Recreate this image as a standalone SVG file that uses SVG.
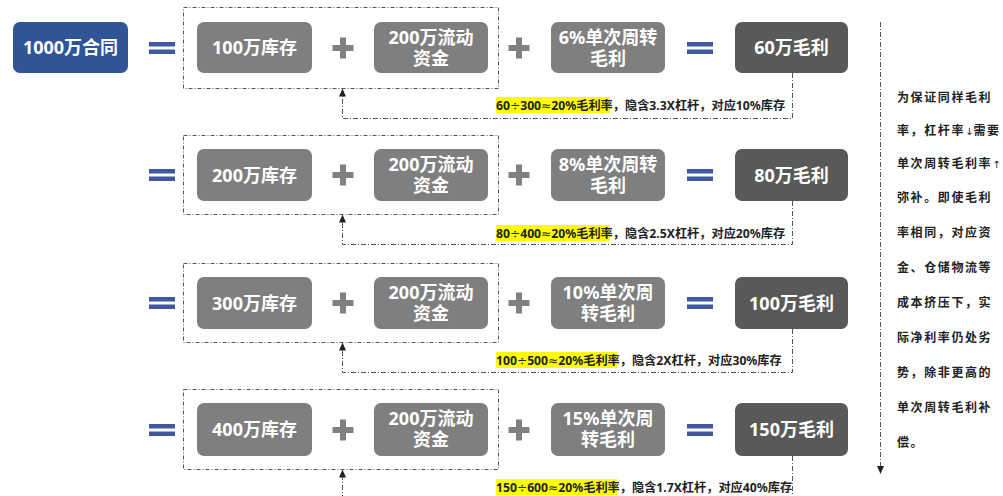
<svg xmlns="http://www.w3.org/2000/svg" width="1003" height="496" viewBox="0 0 1003 496">
<defs>
<style>
.blue{fill:#2F5597}
.gray{fill:#7F7F7F}
.dark{fill:#595959}
.t{fill:#fff;font-family:"Noto Sans","Noto Sans CJK SC",sans-serif;font-weight:bold;font-size:18px;text-anchor:middle}
.frame{fill:none;stroke:#555;stroke-width:1;stroke-dasharray:4 2 1 2}
.con{fill:none;stroke:#555;stroke-width:1;stroke-dasharray:5 2 1 2}
.eq{fill:#4158A0}
.pl{fill:#808080}
.lb{font-family:"Noto Sans","Noto Sans CJK SC",sans-serif;font-weight:bold;font-size:12.2px;fill:#222}
.sym{font-family:"DejaVu Sans",sans-serif;font-weight:normal}
.hl{fill:#FFFF00}
.side{font-family:"Noto Sans","Noto Sans CJK SC",sans-serif;font-weight:bold;font-size:12px;fill:#222;letter-spacing:1.6px}
.arr{font-family:"DejaVu Sans",sans-serif;font-weight:normal;font-size:10px;letter-spacing:0}
</style>
<marker id="ah" viewBox="0 0 8 8" refX="7" refY="4" markerWidth="8" markerHeight="8" orient="auto" markerUnits="userSpaceOnUse">
<path d="M0,0.5 L8,4 L0,7.5 z" fill="#222"/>
</marker>
<symbol id="eqs" overflow="visible"><rect class="eq" x="0" y="-6" width="26" height="4.5"/><rect class="eq" x="0" y="1.5" width="26" height="4.5"/></symbol>
<symbol id="pls" overflow="visible"><rect class="pl" x="-10.5" y="-3" width="21" height="6"/><rect class="pl" x="-3" y="-10.5" width="6" height="21"/></symbol>
</defs>
<rect width="1003" height="496" fill="#fff"/>

<g id="contract">
<rect class="blue" x="13" y="22" width="115" height="51" rx="7"/>
<text class="t" x="70.5" y="54">1000万合同</text>
</g>

<!-- Row 1 -->
<g id="row1">
<use href="#eqs" x="149" y="48"/>
<rect class="frame" x="183.5" y="7.5" width="315" height="81"/>
<g id="r1inv"><rect class="gray" x="197" y="22" width="115" height="51" rx="7"/><text class="t" x="254.5" y="54">100万库存</text></g>
<use href="#pls" x="343" y="48"/>
<g id="r1cap"><rect class="gray" x="374" y="22" width="114" height="51" rx="7"/><text class="t" x="431" y="44">200万流动<tspan x="431" dy="21">资金</tspan></text></g>
<use href="#pls" x="519" y="48"/>
<g id="r1m"><rect class="gray" x="551" y="22" width="114" height="51" rx="7"/><text class="t" x="608" y="44">6%单次周转<tspan x="608" dy="21">毛利</tspan></text></g>
<use href="#eqs" x="687" y="48"/>
<g id="r1p"><rect class="dark" x="735" y="22" width="113" height="51" rx="7"/><text class="t" x="791.5" y="54">60万毛利</text></g>
<g id="r1lbl"><rect class="hl" x="496" y="97" width="114" height="16"/><text class="lb" x="496" y="110">60<tspan class="sym">÷</tspan>300<tspan class="sym">≈</tspan>20%毛利率，隐含3.3X杠杆，对应10%库存</text></g>
</g>

<!-- Row 2 -->
<g id="row2">
<use href="#eqs" x="149" y="175"/>
<rect class="frame" x="183.5" y="135.5" width="315" height="79"/>
<g id="r2inv"><rect class="gray" x="197" y="149" width="115" height="52" rx="7"/><text class="t" x="254.5" y="181.5">200万库存</text></g>
<use href="#pls" x="343" y="175"/>
<g id="r2cap"><rect class="gray" x="374" y="149" width="114" height="52" rx="7"/><text class="t" x="431" y="171">200万流动<tspan x="431" dy="21">资金</tspan></text></g>
<use href="#pls" x="519" y="175"/>
<g id="r2m"><rect class="gray" x="551" y="149" width="114" height="52" rx="7"/><text class="t" x="608" y="171">8%单次周转<tspan x="608" dy="21">毛利</tspan></text></g>
<use href="#eqs" x="687" y="175"/>
<g id="r2p"><rect class="dark" x="735" y="149" width="113" height="52" rx="7"/><text class="t" x="791.5" y="181.5">80万毛利</text></g>
<g id="r2lbl"><rect class="hl" x="496" y="225" width="114" height="16"/><text class="lb" x="496" y="238">80<tspan class="sym">÷</tspan>400<tspan class="sym">≈</tspan>20%毛利率，隐含2.5X杠杆，对应20%库存</text></g>
</g>

<!-- Row 3 -->
<g id="row3">
<use href="#eqs" x="149" y="303"/>
<rect class="frame" x="183.5" y="263.5" width="315" height="79"/>
<g id="r3inv"><rect class="gray" x="197" y="277" width="115" height="52" rx="7"/><text class="t" x="254.5" y="309.5">300万库存</text></g>
<use href="#pls" x="343" y="303"/>
<g id="r3cap"><rect class="gray" x="374" y="277" width="114" height="52" rx="7"/><text class="t" x="431" y="299">200万流动<tspan x="431" dy="21">资金</tspan></text></g>
<use href="#pls" x="519" y="303"/>
<g id="r3m"><rect class="gray" x="551" y="277" width="114" height="52" rx="7"/><text class="t" x="608" y="299">10%单次周<tspan x="608" dy="21">转毛利</tspan></text></g>
<use href="#eqs" x="687" y="303"/>
<g id="r3p"><rect class="dark" x="735" y="277" width="113" height="52" rx="7"/><text class="t" x="791.5" y="309.5">100万毛利</text></g>
<g id="r3lbl"><rect class="hl" x="496" y="352" width="121" height="16"/><text class="lb" x="496" y="365">100<tspan class="sym">÷</tspan>500<tspan class="sym">≈</tspan>20%毛利率，隐含2X杠杆，对应30%库存</text></g>
</g>

<!-- Row 4 -->
<g id="row4">
<use href="#eqs" x="149" y="430"/>
<rect class="frame" x="183.5" y="389.5" width="315" height="80"/>
<g id="r4inv"><rect class="gray" x="197" y="403" width="115" height="53" rx="7"/><text class="t" x="254.5" y="436">400万库存</text></g>
<use href="#pls" x="343" y="430"/>
<g id="r4cap"><rect class="gray" x="374" y="403" width="114" height="53" rx="7"/><text class="t" x="431" y="425">200万流动<tspan x="431" dy="21">资金</tspan></text></g>
<use href="#pls" x="519" y="430"/>
<g id="r4m"><rect class="gray" x="551" y="403" width="114" height="53" rx="7"/><text class="t" x="608" y="425">15%单次周<tspan x="608" dy="21">转毛利</tspan></text></g>
<use href="#eqs" x="687" y="430"/>
<g id="r4p"><rect class="dark" x="735" y="403" width="113" height="53" rx="7"/><text class="t" x="791.5" y="436">150万毛利</text></g>
<g id="r4lbl"><rect class="hl" x="496" y="479" width="121" height="16"/><text class="lb" x="496" y="492">150<tspan class="sym">÷</tspan>600<tspan class="sym">≈</tspan>20%毛利率，隐含1.7X杠杆，对应40%库存</text></g>
</g>

<g id="connectors">
<path class="con" d="M792.5,73 V118.5 H342.5 V89.5" marker-end="url(#ah)"/>
<path class="con" d="M792.5,201 V244.5 H342.5 V215.5" marker-end="url(#ah)"/>
<path class="con" d="M792.5,329 V372.5 H342.5 V343.5" marker-end="url(#ah)"/>
<path class="con" d="M792.5,456 V500 M342.5,500 V470.5" marker-end="url(#ah)"/>
<path class="con" d="M880.5,22 V473" marker-end="url(#ah)"/>
</g>

<g id="note">
<text class="side" x="897" y="102">为保证同样毛利</text>
<text class="side" x="897" y="135">率，杠杆率<tspan class="arr">↓</tspan>需要</text>
<text class="side" x="897" y="168">单次周转毛利率<tspan class="arr">↑</tspan></text>
<text class="side" x="897" y="202">弥补。即使毛利</text>
<text class="side" x="897" y="237">率相同，对应资</text>
<text class="side" x="897" y="272">金、仓储物流等</text>
<text class="side" x="897" y="307">成本挤压下，实</text>
<text class="side" x="897" y="342">际净利率仍处劣</text>
<text class="side" x="897" y="377">势，除非更高的</text>
<text class="side" x="897" y="412">单次周转毛利补</text>
<text class="side" x="897" y="447">偿。</text>
</g>
</svg>
